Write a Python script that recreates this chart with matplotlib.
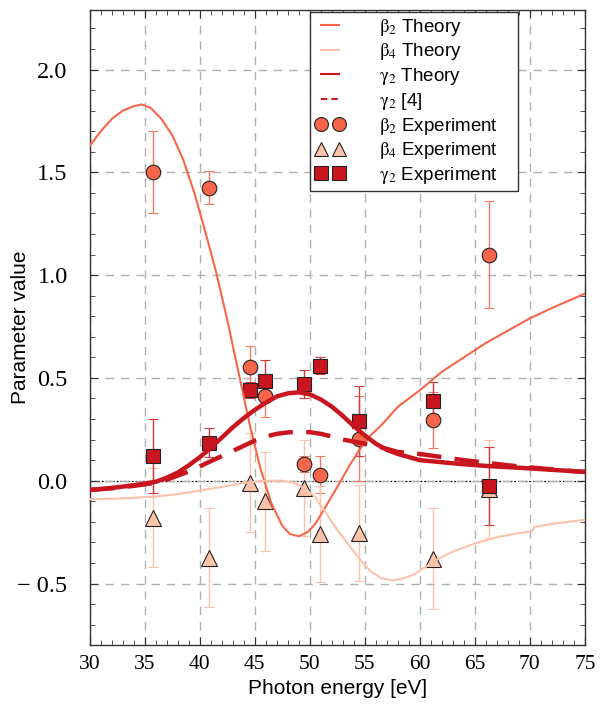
import matplotlib
matplotlib.use("Agg")
import matplotlib.pyplot as plt
from matplotlib.ticker import MultipleLocator, FuncFormatter

plt.rcParams["font.family"] = ["Liberation Sans", "DejaVu Sans"]
plt.rcParams["mathtext.fontset"] = "stix"

# theory curves
th_x_b2 = [30, 31, 32, 33, 34, 34.7, 35.5, 36.5, 37.5, 38.5, 39.5, 40.5, 41.5, 42.5, 43.5,
           44.5, 45.5, 46.5, 47.5, 48.2, 49, 49.8, 50.5, 51.5, 52.5, 53.5, 54.5, 55.5, 56.5,
           58, 60, 62, 64, 66, 68, 70, 72, 75]
th_beta2 = [1.63, 1.70, 1.76, 1.80, 1.822, 1.83, 1.815, 1.76, 1.68, 1.56, 1.40, 1.21, 1.01,
            0.78, 0.53, 0.28, 0.06, -0.11, -0.22, -0.26, -0.27, -0.25, -0.21, -0.12, -0.03,
            0.065, 0.15, 0.22, 0.27, 0.36, 0.44, 0.53, 0.60, 0.67, 0.73, 0.79, 0.84, 0.91]

th_x_b4 = [30, 32, 34, 36, 38, 40, 42, 44, 46, 47.5, 48.5, 49.5, 50.5, 51.5, 52.5, 53.5, 54.5,
           55.5, 56.5, 57.5, 58.5, 59.5, 60.5, 61.5, 63, 65, 67, 69, 70.2, 70.4, 72, 75]
th_beta4 = [-0.09, -0.088, -0.083, -0.077, -0.065, -0.048, -0.03, -0.01, 0.0, 0.0, -0.01,
            -0.035, -0.08, -0.16, -0.24, -0.31, -0.38, -0.44, -0.475, -0.485, -0.475, -0.455,
            -0.42, -0.385, -0.345, -0.305, -0.275, -0.255, -0.245, -0.225, -0.21, -0.19]

th_x_g2 = [30, 32, 34, 36, 37, 38, 39, 40, 41, 42, 43, 44, 45, 46, 47, 48, 49, 50, 51, 52,
           53, 54, 55, 56, 57, 58, 59, 60, 62, 64, 66, 68, 70, 72, 75]
th_gamma2 = [-0.045, -0.035, -0.022, -0.005, 0.015, 0.04, 0.075, 0.115, 0.16, 0.21, 0.26,
             0.305, 0.345, 0.38, 0.41, 0.425, 0.43, 0.42, 0.395, 0.36, 0.315, 0.265, 0.22,
             0.18, 0.15, 0.13, 0.115, 0.10, 0.09, 0.08, 0.072, 0.066, 0.06, 0.053, 0.043]

ref_x_g2 = [30, 32, 34, 36, 37, 38, 39, 40, 41, 42, 43, 44, 45, 46, 47, 48, 49, 50, 51, 52,
            53, 54, 55, 56, 57, 58, 60, 62, 64, 66, 68, 70, 72, 75]
ref_gamma2 = [-0.045, -0.037, -0.025, -0.01, 0.005, 0.025, 0.045, 0.07, 0.095, 0.12, 0.145,
              0.17, 0.195, 0.215, 0.228, 0.235, 0.238, 0.236, 0.228, 0.215, 0.20, 0.19, 0.18,
              0.17, 0.155, 0.14, 0.13, 0.115, 0.10, 0.088, 0.075, 0.065, 0.055, 0.042]

# experiment
exp_x = [35.7, 40.8, 44.6, 45.9, 49.5, 50.9, 54.5, 61.2, 66.3]
exp_beta2 = [1.50, 1.425, 0.555, 0.41, 0.08, 0.03, 0.205, 0.295, 1.10]
err_beta2 = [0.20, 0.08, 0.10, 0.10, 0.04, 0.09, 0.205, 0.135, 0.26]
exp_beta4 = [-0.18, -0.375, -0.01, -0.10, -0.035, -0.26, -0.255, -0.38, -0.04]
err_beta4 = [0.24, 0.24, 0.24, 0.24, 0.235, 0.235, 0.235, 0.245, 0.24]
exp_gamma2 = [0.12, 0.185, 0.44, 0.485, 0.47, 0.56, 0.29, 0.39, -0.025]
err_gamma2 = [0.18, 0.07, 0.04, 0.10, 0.07, 0.04, 0.17, 0.09, 0.19]

c_b2 = "#f7664a"
c_b4 = "#fdc3aa"
c_g2 = "#c9161e"

fig = plt.figure(figsize=(6.03, 7.09), dpi=100)
ax = fig.add_axes([0.149, 0.090, 0.821, 0.896])

ax.grid(True, color="#b0b0b0", linestyle=(0, (6, 5)), linewidth=1.0)
ax.axhline(0, color="black", linestyle=(0, (1.5, 1.5)), linewidth=0.9, zorder=1)

mk = dict(markeredgecolor="#222222", markeredgewidth=0.8, capsize=3.5, elinewidth=1.0,
          linestyle="none", zorder=3)
ax.errorbar(exp_x, exp_beta2, yerr=err_beta2, fmt="o", color=c_b2, ecolor="#f47b63",
            markersize=10.5, **mk)
ax.errorbar(exp_x, exp_beta4, yerr=err_beta4, fmt="^", color=c_b4, ecolor=c_b4,
            markersize=11, **mk)
ax.errorbar(exp_x, exp_gamma2, yerr=err_gamma2, fmt="s", color=c_g2, ecolor="#d33a3e",
            markersize=10.5, **mk)

ax.plot(th_x_b2, th_beta2, color=c_b2, lw=1.5, zorder=4)
ax.plot(th_x_b4, th_beta4, color=c_b4, lw=1.5, zorder=4)
ax.plot(th_x_g2, th_gamma2, color=c_g2, lw=3.2, zorder=4)
ax.plot(ref_x_g2, ref_gamma2, color=c_g2, lw=3.2, linestyle=(0, (5.5, 3)), zorder=4)

ax.set_xlim(30, 75)
ax.set_ylim(-0.8, 2.29)
ax.xaxis.set_major_locator(MultipleLocator(5))
ax.xaxis.set_minor_locator(MultipleLocator(1))
ax.yaxis.set_major_locator(MultipleLocator(0.5))
ax.yaxis.set_minor_locator(MultipleLocator(0.1))
ax.tick_params(which="both", direction="in", top=True, right=True, color="#333333")
ax.tick_params(which="major", length=6, width=0.8)
ax.tick_params(axis="y", which="major", pad=16, labelsize=17.5)
ax.tick_params(axis="x", which="major", pad=7, labelsize=15.5)
ax.tick_params(which="minor", length=3.5, width=0.6)
ax.yaxis.set_major_formatter(FuncFormatter(
    lambda v, _: f"\u2212 {abs(v):.1f}" if v < -1e-9 else f"{v:.1f}"))
for lab in ax.get_xticklabels() + ax.get_yticklabels():
    lab.set_fontfamily("Liberation Serif")
for s in ax.spines.values():
    s.set_color("#333333")
    s.set_linewidth(1.0)

ax.set_xlabel("Photon energy [eV]", fontsize=15, labelpad=4)
ax.set_ylabel("Parameter value", fontsize=15)
ax.yaxis.set_label_coords(-0.121, 0.5)

# legend handles
h1, = ax.plot([], [], color=c_b2, lw=1.5)
h2, = ax.plot([], [], color=c_b4, lw=1.5)
h3, = ax.plot([], [], color=c_g2, lw=1.5)
h4, = ax.plot([], [], color=c_g2, lw=1.5, linestyle=(0, (3, 2)))
h5, = ax.plot([], [], "o", color=c_b2, markeredgecolor="#222222", markeredgewidth=0.8, markersize=10)
h6, = ax.plot([], [], "^", color=c_b4, markeredgecolor="#222222", markeredgewidth=0.8, markersize=10)
h7, = ax.plot([], [], "s", color=c_g2, markeredgecolor="#222222", markeredgewidth=0.8, markersize=10)
leg = ax.legend([h1, h2, h3, h4, h5, h6, h7],
                [r"$\mathrm{β}_2$ Theory", r"$\mathrm{β}_4$ Theory", r"$\mathrm{γ}_2$ Theory",
                 r"$\mathrm{γ}_2$ [4]", r"$\mathrm{β}_2$ Experiment    ",
                 r"$\mathrm{β}_4$ Experiment    ", r"$\mathrm{γ}_2$ Experiment    "],
                loc="upper right", bbox_to_anchor=(0.865, 0.997), numpoints=2,
                fontsize=13.5, handlelength=1.6, handletextpad=1.8, labelspacing=0.2,
                borderpad=0.25, borderaxespad=0.0, fancybox=False, framealpha=1,
                edgecolor="#333333")
leg.get_frame().set_linewidth(1.0)

fig.savefig("out.png", dpi=100)
